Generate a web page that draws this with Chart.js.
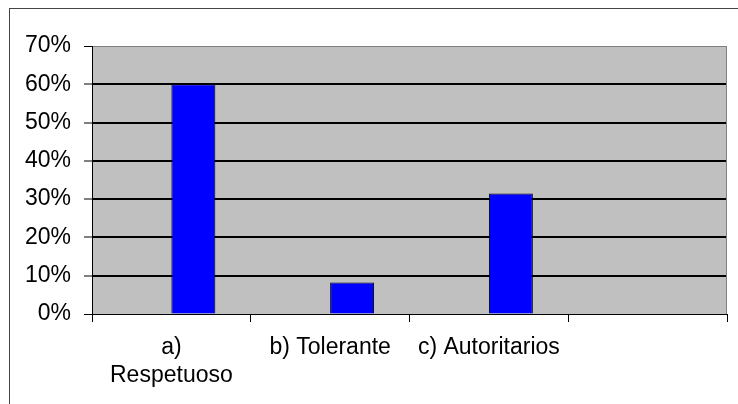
<!DOCTYPE html>
<html>
<head>
<meta charset="utf-8">
<script src="https://cdn.jsdelivr.net/npm/chart.js@4"></script>
<style>
  html, body { margin: 0; padding: 0; background: #fff; }
  #wrap { position: relative; width: 738px; height: 404px; }
</style>
</head>
<body>
<div id="wrap"><canvas id="chart"></canvas></div>
<script>
// categories (4th slot is empty in the original)
const categories = [['a)', 'Respetuoso'], 'b) Tolerante', 'c) Autoritarios', ''];
// hidden first series (Excel left it empty), visible second series
const emptySeries = [null, null, null, null];
const percentValues = [60, 8.2, 31.5, null];
const yTicks = [0, 10, 20, 30, 40, 50, 60, 70];

// grey plot area + outer frame
const plotBox = {
    id: 'plotBox',
    beforeDraw(chart) {
        const { ctx, chartArea: a } = chart;
        ctx.save();
        ctx.fillStyle = '#C0C0C0';
        ctx.fillRect(a.left, a.top, a.right - a.left, a.bottom - a.top);
        ctx.strokeStyle = '#444';
        ctx.lineWidth = 1;
        ctx.strokeRect(9.5, 8.5, 760, 420);
        ctx.restore();
    },
    beforeDatasetsDraw(chart) {
        const { ctx, chartArea: a } = chart;
        ctx.save();
        ctx.strokeStyle = '#808080';
        ctx.lineWidth = 1;
        ctx.beginPath();
        ctx.moveTo(Math.round(a.right) - 0.5, a.top);
        ctx.lineTo(Math.round(a.right) - 0.5, a.bottom);
        ctx.stroke();
        ctx.restore();
    }
};

new Chart(document.getElementById('chart'), {
    type: 'bar',
    data: {
        labels: categories,
        datasets: [
            { data: emptySeries, backgroundColor: '#0000FF' },
            {
                data: percentValues,
                backgroundColor: '#0000FF',
                borderColor: '#000',
                borderWidth: 1
            }
        ]
    },
    options: {
        responsive: true,
        maintainAspectRatio: false,
        animation: false,
        layout: { padding: { left: 0, right: 11, top: 46, bottom: 0 } },
        plugins: {
            legend: { display: false },
            tooltip: { enabled: false }
        },
        datasets: {
            bar: { categoryPercentage: 0.554, barPercentage: 1 }
        },
        scales: {
            x: {
                afterFit(scale) { scale.height = 90; },
                grid: {
                    drawOnChartArea: false,
                    drawTicks: true,
                    tickLength: 8,
                    tickColor: '#000',
                    tickWidth: 1
                },
                border: { color: '#000', width: 1 },
                ticks: {
                    padding: 12,
                    maxRotation: 0,
                    autoSkip: false,
                    color: '#000',
                    font: { family: '"Liberation Sans", Arial, sans-serif', size: 23, lineHeight: 1.22 }
                }
            },
            y: {
                min: 0,
                max: 70,
                afterFit(scale) { scale.width = 92; },
                afterBuildTicks(scale) { scale.ticks = yTicks.map(v => ({ value: v })); },
                grid: {
                    color: c => c.tick && c.tick.value === 70 ? '#808080' : '#000',
                    lineWidth: c => c.tick && (c.tick.value === 70 || c.tick.value === 0) ? 1 : 2,
                    drawTicks: true,
                    tickLength: 8,
                    tickColor: '#000',
                    tickWidth: 1
                },
                border: { color: '#000', width: 1 },
                ticks: {
                    padding: 13,
                    color: '#000',
                    font: { family: '"Liberation Sans", Arial, sans-serif', size: 23 },
                    callback: v => v + '%'
                }
            }
        }
    },
    plugins: [plotBox]
});
</script>
</body>
</html>
